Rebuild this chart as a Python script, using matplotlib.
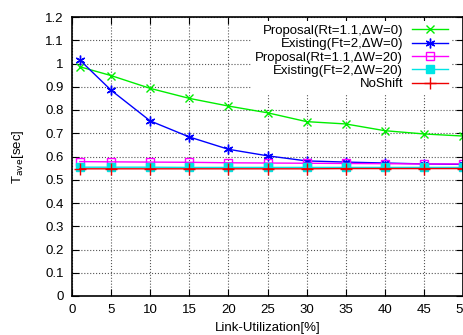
import matplotlib
matplotlib.use('Agg')
import matplotlib.pyplot as plt

# Datos
util = [1, 5, 10, 15, 20, 25, 30, 35, 40, 45, 50]
prop_w0 = [0.986, 0.948, 0.893, 0.850, 0.817, 0.788, 0.750, 0.740, 0.711, 0.697, 0.688]
exist_w0 = [1.015, 0.885, 0.753, 0.684, 0.631, 0.603, 0.581, 0.576, 0.572, 0.568, 0.566]
prop_w20 = [0.578, 0.577, 0.576, 0.575, 0.573, 0.572, 0.571, 0.570, 0.569, 0.568, 0.568]
exist_w20 = [0.554, 0.554, 0.554, 0.553, 0.553, 0.553, 0.553, 0.553, 0.553, 0.553, 0.553]
noshift = [0.547, 0.547, 0.547, 0.547, 0.547, 0.547, 0.547, 0.548, 0.548, 0.548, 0.548]

labels = ['Proposal(Rt=1.1,\u0394W=0)', 'Existing(Ft=2,\u0394W=0)',
          'Proposal(Rt=1.1,\u0394W=20)', 'Existing(Ft=2,\u0394W=20)', 'NoShift']

plt.rcParams['font.family'] = ['Liberation Sans', 'DejaVu Sans']
plt.rcParams['font.size'] = 9.5

fig = plt.figure(figsize=(4.63, 3.35), dpi=100)
ax = fig.add_axes([72/463, 1 - 296/335, 391/463, (296 - 17)/335])

ax.plot(util, prop_w0, color='#00ee00', marker='x', ms=6, lw=1, label=labels[0])
ax.plot(util, exist_w0, color='#0000ff', marker=(6, 2, 0), ms=7, lw=1, label=labels[1])
ax.plot(util, prop_w20, color='#ff00ff', marker='s', ms=6, mfc='none', lw=1, label=labels[2])
ax.plot(util, exist_w20, color='#00e5e5', marker='s', ms=6, lw=1, label=labels[3])
ax.plot(util, noshift, color='#ee0000', marker='+', ms=8, lw=1, label=labels[4])

ax.set_xlim(0, 50)
ax.set_ylim(0, 1.2)
ax.set_xticks(range(0, 51, 5))
ax.set_yticks([i / 10 for i in range(13)])
ax.set_yticklabels(['0', '0.1', '0.2', '0.3', '0.4', '0.5', '0.6', '0.7', '0.8', '0.9', '1', '1.1', '1.2'])
ax.tick_params(direction='in', top=True, right=True, length=5, labelsize=9.5, pad=6)
ax.grid(True, linestyle=':', color='#555555', lw=0.8)
for s in ax.spines.values():
    s.set_linewidth(1.2)

ax.set_xlabel('Link-Utilization[%]', fontsize=9.5, labelpad=4)
ax.set_ylabel(r'T$_{\rm ave}$[sec]', fontsize=9.5, labelpad=14)

leg = ax.legend(loc='upper right', bbox_to_anchor=(0.972, 0.986), frameon=True, markerfirst=False,
                fontsize=9.5, handlelength=2.7, labelspacing=0.08, borderaxespad=0,
                handletextpad=0.7, borderpad=0.3, fancybox=False)
leg.get_frame().set_facecolor('white')
leg.get_frame().set_edgecolor('none')
leg.get_frame().set_alpha(1)
leg.set_zorder(2)

fig.savefig('out.png', dpi=100)
